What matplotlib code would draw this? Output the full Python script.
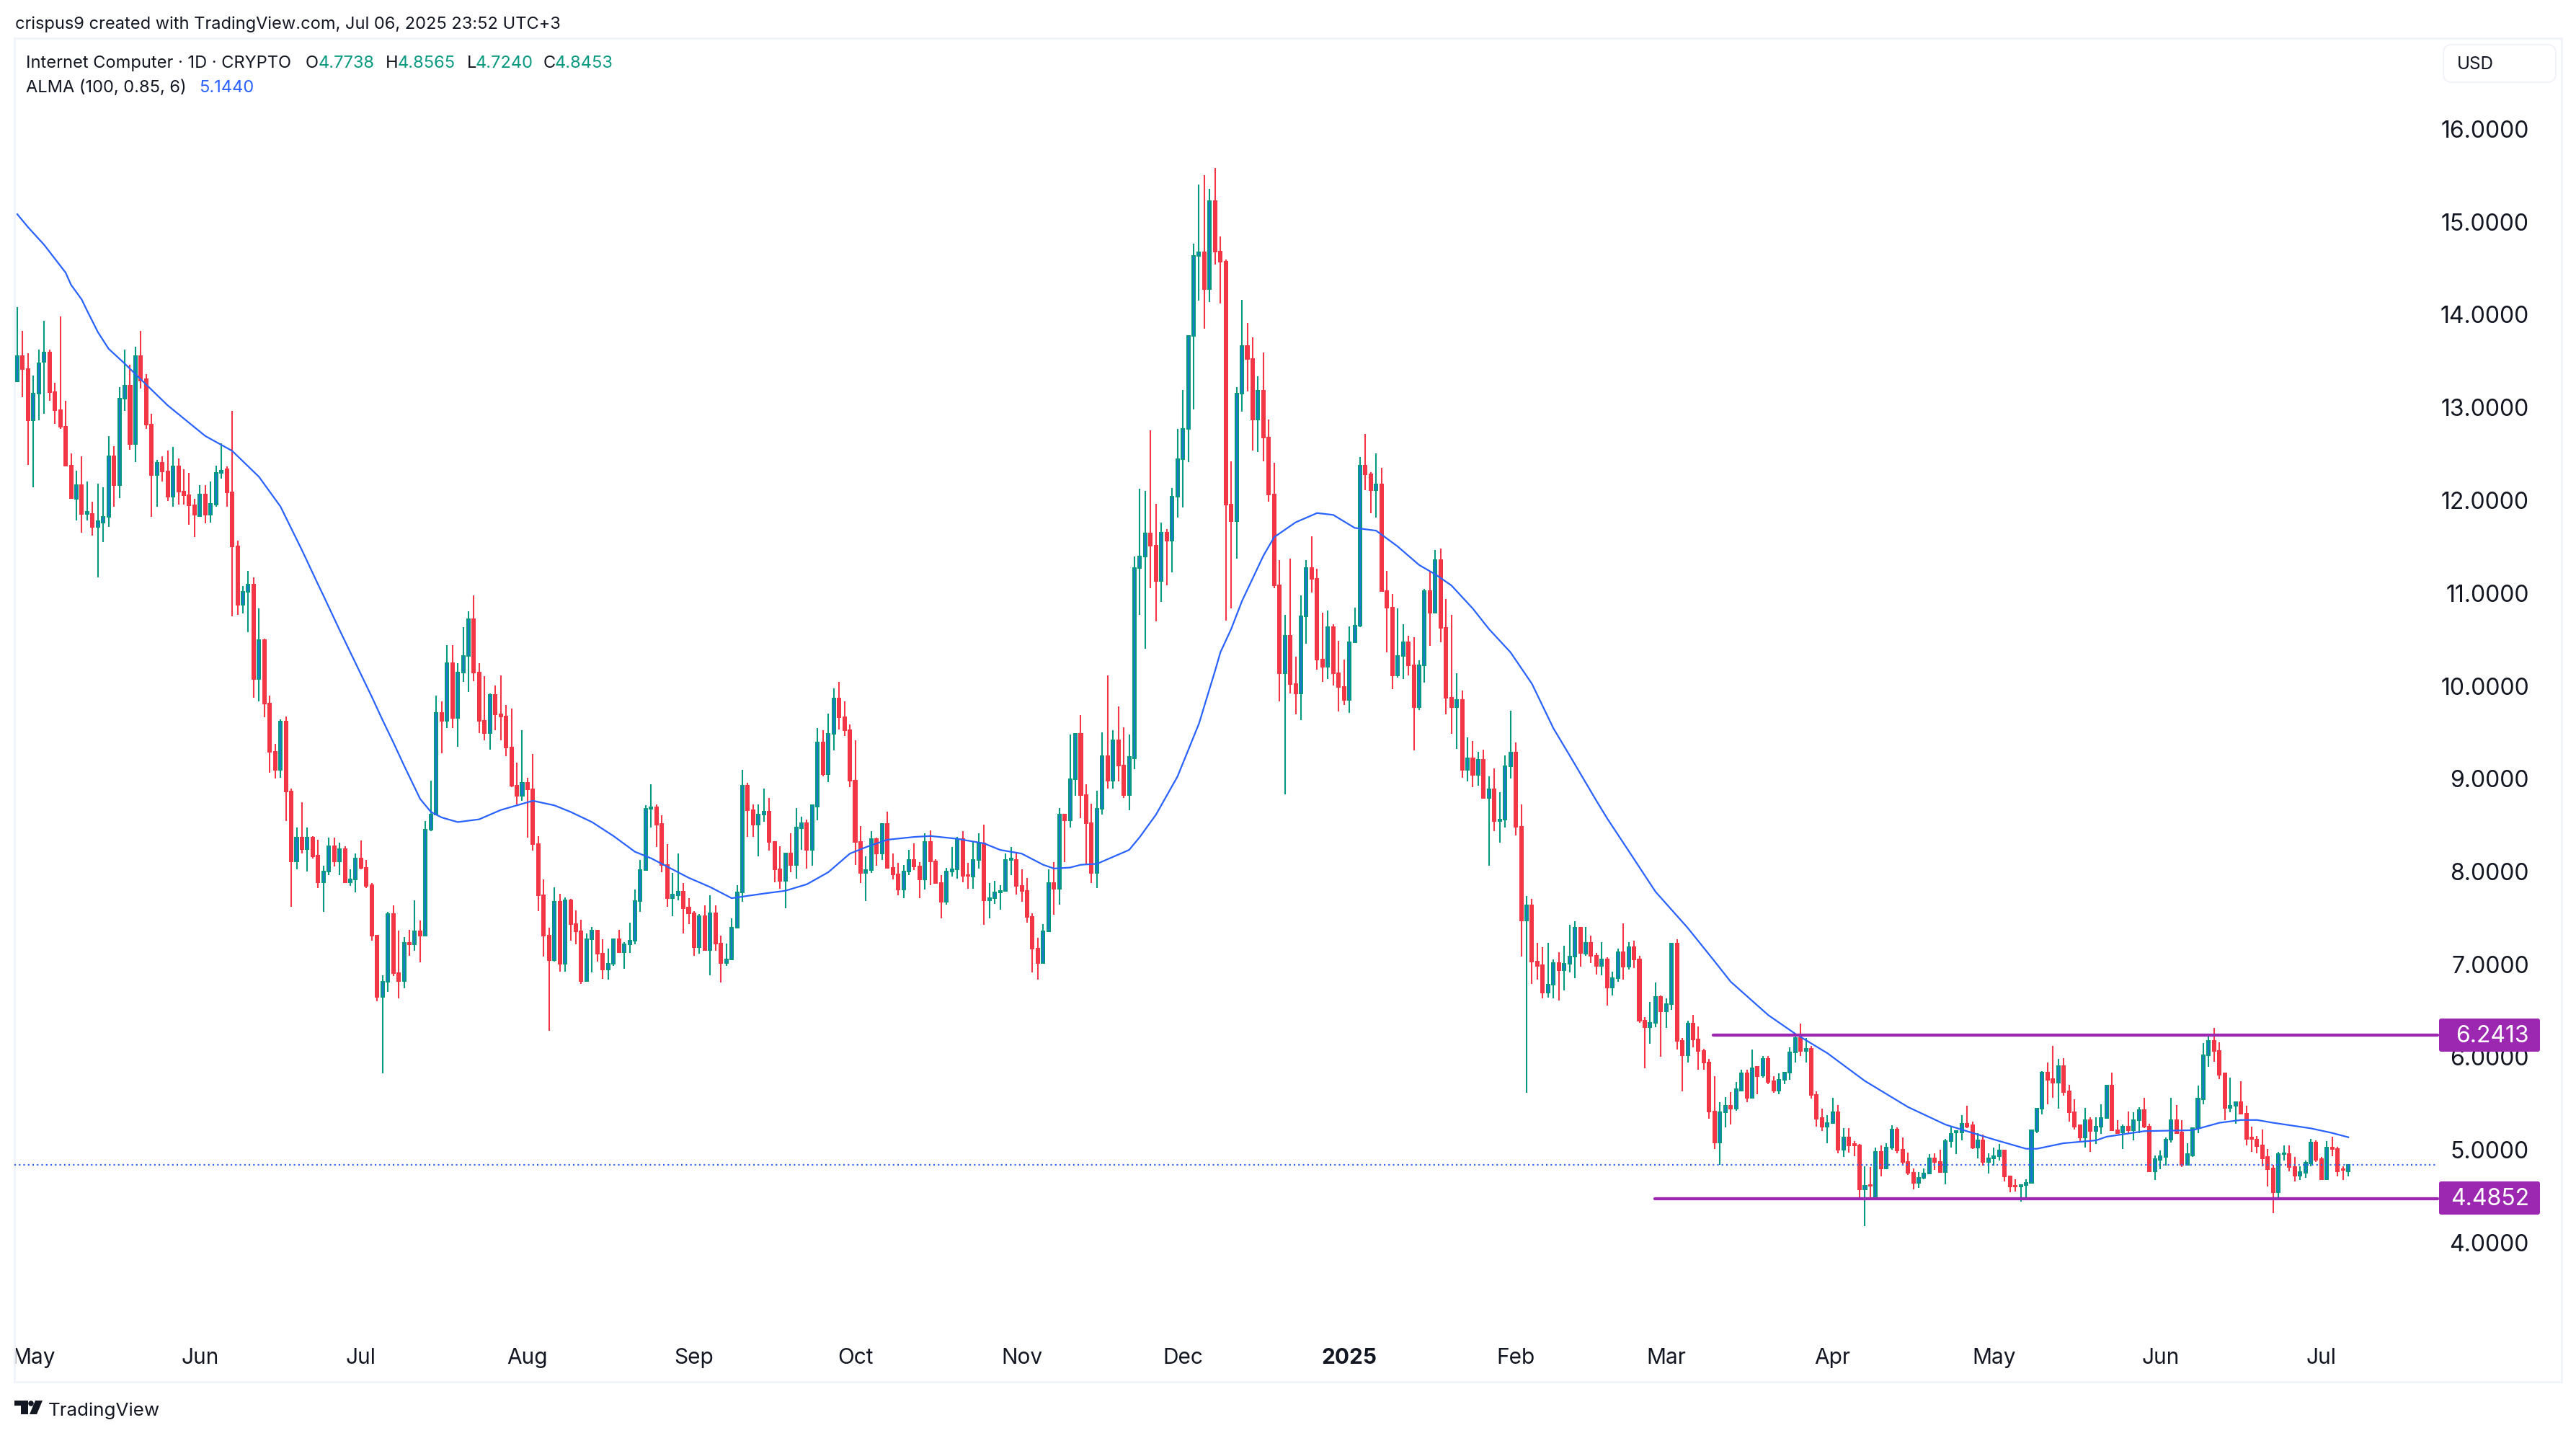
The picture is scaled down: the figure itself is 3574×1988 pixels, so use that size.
import matplotlib
matplotlib.use('Agg')
import matplotlib.pyplot as plt
from matplotlib.patches import FancyBboxPatch, Polygon, Circle
from matplotlib.transforms import ScaledTranslation

plt.rcParams['font.family'] = ['Inter', 'DejaVu Sans']

# daily candles, Apr 28 2024 .. Jul 6 2025
highs = [14.09,13.83,13.59,13.35,13.63,13.94,13.63,13.27,13.99,13.08,
12.51,12.33,12.48,12.21,11.99,12.19,12.15,12.70,12.59,13.23,
13.63,13.47,13.66,13.83,13.37,12.94,12.44,12.48,12.54,12.58,
12.46,12.34,12.30,12.02,12.17,12.17,12.21,12.38,12.62,12.37,
12.97,11.57,11.08,11.25,11.18,10.84,10.52,9.90,9.38,9.65,
9.68,8.90,8.48,8.75,8.48,8.39,8.35,8.07,8.37,8.37,
8.32,8.28,8.03,8.20,8.34,8.13,7.88,7.32,6.89,7.57,
7.64,7.37,7.30,7.38,7.70,7.48,8.55,8.99,9.90,9.84,
10.45,10.45,10.25,10.64,10.81,10.98,10.25,10.11,9.93,10.01,
10.12,9.80,9.76,9.18,9.53,9.02,9.27,8.39,7.92,7.40,
7.84,7.77,7.73,7.71,7.59,7.49,7.34,7.41,7.38,7.28,
7.18,7.28,7.38,7.25,7.46,7.81,8.13,8.72,8.95,8.73,
8.61,8.30,7.99,8.20,7.88,7.72,7.58,7.55,7.64,7.75,
7.64,7.32,7.23,7.50,7.86,9.10,8.96,8.73,8.73,8.90,
8.80,8.33,8.28,8.20,8.42,8.69,8.60,8.57,8.73,9.55,
9.53,9.71,9.98,10.05,9.84,9.59,9.42,8.50,8.17,8.44,
8.37,8.52,8.65,8.20,8.10,8.08,8.24,8.31,8.11,8.42,
8.45,8.14,7.97,8.05,8.27,8.38,8.44,8.10,8.33,8.42,
8.51,7.88,7.91,7.86,8.20,8.27,8.20,8.03,7.94,7.56,
7.29,7.44,8.03,8.11,8.69,8.63,9.48,9.49,9.69,8.95,
8.74,8.88,9.51,10.12,9.53,9.79,9.56,9.48,11.40,12.13,
12.11,12.76,11.97,11.77,11.70,12.14,12.78,13.20,13.78,14.77,
15.41,15.51,15.36,15.59,14.85,14.60,12.43,13.23,14.17,13.92,
13.76,13.34,13.60,12.88,12.41,11.36,10.77,11.38,10.32,10.98,
11.36,11.62,11.27,10.80,10.82,10.67,10.49,10.29,10.65,10.85,
12.47,12.72,12.31,12.51,12.36,11.25,11.00,10.84,10.67,10.55,
10.53,10.28,11.05,11.24,11.47,11.49,10.94,10.77,10.14,9.96,
9.45,9.41,9.30,9.32,9.03,9.12,8.86,9.26,9.74,9.40,
8.73,7.74,7.71,7.24,7.19,7.24,7.06,7.14,7.21,7.43,
7.47,7.40,7.41,7.32,7.13,7.25,7.08,6.93,7.18,7.45,
7.25,7.26,7.10,6.44,6.60,6.81,6.67,6.64,7.24,7.28,
6.21,6.40,6.46,6.34,6.10,5.99,5.80,5.52,5.58,5.63,
5.74,5.87,5.87,6.09,5.91,6.02,6.02,5.80,5.83,5.85,
6.11,6.24,6.37,6.21,6.13,5.64,5.45,5.38,5.57,5.49,
5.24,5.24,5.10,5.07,4.83,4.82,5.03,5.06,5.08,5.27,
5.25,5.14,4.98,4.81,4.77,4.81,4.96,4.97,5.01,5.13,
5.26,5.22,5.38,5.48,5.31,5.19,5.17,4.97,5.03,5.07,
5.00,4.72,4.69,4.64,4.69,5.23,5.46,5.86,5.95,6.13,
5.99,6.00,5.71,5.55,5.28,5.46,5.36,5.36,5.50,5.71,
5.84,5.33,5.28,5.42,5.41,5.47,5.57,5.29,4.95,5.00,
5.14,5.57,5.49,5.33,5.08,5.25,5.70,6.16,6.23,6.32,
6.17,5.83,5.79,5.53,5.75,5.48,5.26,5.16,5.23,5.02,
4.85,4.99,5.06,5.06,4.93,4.83,4.89,5.13,5.11,4.93,
5.10,5.15,5.04,4.83,4.8565]

lows = [13.28,13.12,12.39,12.15,12.87,12.94,13.08,12.83,12.78,12.38,
12.03,11.79,11.66,11.79,11.63,11.18,11.56,11.72,11.94,12.03,
12.97,12.55,12.42,13.21,12.78,11.83,11.94,12.21,12.00,11.94,
11.96,11.96,11.74,11.61,11.83,11.76,11.77,11.94,12.24,11.94,
10.76,10.77,10.79,10.59,9.88,9.84,9.67,9.07,9.01,9.02,
8.55,7.63,8.03,8.20,8.01,8.15,7.83,7.57,7.97,8.06,
7.97,7.88,7.85,7.78,8.03,7.83,7.26,6.61,5.83,6.71,
6.88,6.64,6.75,7.10,7.15,7.03,7.32,8.44,8.61,9.28,
9.55,9.55,9.35,10.05,9.94,10.06,9.50,9.42,9.32,9.53,
9.42,9.25,8.92,8.73,8.77,8.37,8.23,7.58,7.09,6.29,
7.04,6.93,6.93,7.26,7.22,6.80,6.83,6.92,7.04,6.85,
6.84,6.99,7.13,6.96,7.13,7.22,7.57,8.02,8.48,8.27,
8.00,7.63,7.53,7.70,7.34,7.44,7.10,7.12,7.16,6.89,
7.15,6.81,6.99,7.05,7.40,7.68,8.38,8.38,8.17,8.54,
8.23,7.89,7.82,7.61,8.00,7.93,8.24,8.04,8.07,8.56,
9.03,8.97,9.31,9.54,9.47,8.92,8.08,7.88,7.69,7.99,
8.07,8.13,8.04,7.92,7.75,7.72,7.97,8.02,7.72,7.81,
7.86,7.88,7.50,7.65,7.95,7.93,7.89,7.82,7.82,8.04,
7.43,7.50,7.66,7.60,7.79,7.97,7.76,7.68,7.46,6.92,
6.84,7.02,7.36,7.54,7.65,8.11,8.48,8.82,8.58,8.08,
7.88,7.83,8.62,8.90,8.90,8.98,8.80,8.67,9.11,10.77,
10.41,11.06,10.70,10.91,11.09,11.23,11.82,11.93,12.42,12.99,
14.16,13.86,14.14,14.55,14.13,10.71,10.84,11.38,12.96,13.18,
12.54,12.53,12.43,11.99,11.06,9.84,8.84,9.93,9.70,9.64,
10.46,11.01,10.18,10.05,10.08,10.01,9.73,9.80,9.72,10.48,
10.64,12.12,11.87,11.82,11.02,10.37,9.97,10.10,10.08,10.12,
9.31,9.75,10.04,10.44,10.80,10.48,9.70,9.49,9.33,9.02,
8.98,8.92,8.93,8.80,8.07,8.44,8.32,8.48,9.01,8.40,
7.09,5.62,6.80,6.84,6.64,6.65,6.64,6.62,6.73,6.92,
6.86,6.98,7.10,7.02,6.90,6.89,6.56,6.67,6.82,6.84,
6.95,6.97,6.38,5.89,6.15,6.33,6.01,6.32,6.52,6.09,
5.64,5.95,6.11,5.87,5.87,5.34,5.02,4.85,5.25,5.28,
5.43,5.64,5.52,5.57,5.61,5.79,5.72,5.62,5.61,5.72,
5.76,5.95,6.02,5.95,5.56,5.26,5.21,5.08,5.29,4.97,
4.93,4.98,4.94,4.47,4.19,4.48,4.49,4.72,4.81,5.01,
4.97,4.84,4.74,4.58,4.60,4.69,4.75,4.79,4.76,4.64,
5.03,4.96,5.11,5.24,5.02,4.92,4.84,4.75,4.84,4.89,
4.67,4.55,4.56,4.45,4.50,4.65,5.19,5.39,5.50,5.57,
5.45,5.59,5.31,5.23,5.09,5.03,4.99,5.07,5.18,5.35,
5.21,5.18,5.02,5.19,5.11,5.19,5.24,4.78,4.68,4.80,
4.84,5.09,5.18,4.82,4.84,4.93,5.19,5.50,5.90,5.96,
5.77,5.33,5.41,5.29,5.39,5.06,4.99,4.97,4.83,4.61,
4.33,4.47,4.89,4.78,4.67,4.68,4.71,4.83,4.88,4.68,
4.68,4.94,4.72,4.68,4.7240]

opens = [13.29,13.56,13.42,12.87,13.16,13.50,13.60,13.17,12.98,12.80,
12.38,12.02,12.17,11.86,11.86,11.72,11.77,11.83,12.48,12.17,
13.10,13.24,12.61,13.56,13.31,12.82,12.28,12.41,12.32,12.05,
12.37,12.10,12.06,11.95,11.84,12.07,11.85,11.96,12.30,12.34,
12.09,11.51,10.88,11.02,11.10,10.08,10.50,9.82,9.30,9.10,
9.62,8.87,8.12,8.37,8.25,8.37,8.18,7.89,8.01,8.28,
8.12,8.25,7.89,7.92,8.15,8.05,7.86,7.32,6.66,6.82,
7.55,6.91,6.83,7.24,7.22,7.36,7.32,8.46,8.62,9.72,
9.63,10.25,9.66,10.15,10.33,10.73,10.15,9.63,9.50,9.91,
9.70,9.68,9.34,8.93,8.82,8.96,8.89,8.30,7.75,7.32,
7.05,7.68,7.01,7.70,7.44,7.36,6.83,7.28,7.37,7.12,
6.95,7.01,7.28,7.14,7.22,7.26,7.69,8.02,8.68,8.70,
8.52,8.08,7.72,7.75,7.79,7.62,7.56,7.19,7.53,7.16,
7.56,7.23,7.02,7.06,7.40,7.78,8.93,8.67,8.51,8.62,
8.65,8.33,8.03,7.91,8.20,8.08,8.47,8.53,8.24,8.71,
9.40,9.06,9.49,9.87,9.67,9.53,8.99,8.33,7.99,8.02,
8.36,8.20,8.52,8.05,7.98,7.81,8.01,8.13,8.06,7.92,
8.33,8.12,7.88,7.68,8.01,8.03,8.36,7.97,7.95,8.13,
8.31,7.70,7.72,7.78,7.80,8.13,8.13,7.85,7.80,7.52,
7.18,7.02,7.36,7.88,7.82,8.62,8.56,9.00,9.49,8.83,
8.53,7.99,8.68,9.25,8.99,9.42,9.15,8.83,9.23,11.28,
11.40,11.65,11.52,11.14,11.66,11.57,12.05,12.45,12.78,13.78,
14.64,14.68,14.28,15.23,14.69,14.58,11.96,11.78,13.16,13.67,
13.53,12.88,13.19,12.68,12.07,11.09,10.14,10.55,10.03,9.93,
10.76,11.28,11.16,10.29,10.21,10.64,10.14,10.00,9.86,10.48,
10.66,12.38,12.29,12.12,12.18,11.03,10.85,10.12,10.33,10.48,
10.23,9.78,10.23,11.03,10.80,11.36,10.63,9.88,9.78,9.86,
9.10,9.23,9.05,9.21,8.80,8.89,8.55,8.57,9.14,9.29,
8.49,7.48,7.64,7.04,7.00,6.70,6.79,7.02,6.94,7.01,
7.09,7.40,7.12,7.24,7.10,6.99,7.06,6.76,6.86,7.14,
6.98,7.19,7.06,6.40,6.33,6.38,6.66,6.50,6.58,7.23,
6.18,6.03,6.37,6.20,6.07,5.95,5.42,5.09,5.41,5.48,
5.45,5.65,5.83,5.57,5.90,5.81,5.99,5.75,5.65,5.76,
5.84,6.06,6.21,6.07,6.10,5.60,5.35,5.26,5.30,5.41,
5.01,5.14,5.07,5.06,4.58,4.63,4.50,4.99,4.81,5.03,
5.23,5.01,4.88,4.76,4.65,4.71,4.75,4.92,4.88,4.77,
5.10,5.20,5.20,5.29,5.27,5.03,5.11,4.88,4.92,4.94,
5.00,4.72,4.62,4.61,4.63,4.65,5.21,5.45,5.84,5.77,
5.73,5.91,5.64,5.41,5.27,5.14,5.33,5.21,5.26,5.35,
5.70,5.22,5.20,5.26,5.22,5.33,5.44,5.26,4.78,4.90,
4.93,5.12,5.33,5.20,4.85,4.95,5.24,5.55,6.03,6.18,
6.07,5.83,5.46,5.48,5.52,5.40,5.14,5.12,5.06,4.93,
4.81,4.55,4.96,4.96,4.82,4.73,4.76,4.86,5.09,4.91,
4.69,5.03,5.02,4.80,4.7738]

closes = [13.56,13.42,12.87,13.16,13.48,13.60,13.17,12.98,12.80,12.38,
12.03,12.17,11.86,11.88,11.72,11.78,11.83,12.48,12.17,13.10,
13.24,12.61,13.56,13.30,12.82,12.28,12.41,12.32,12.05,12.37,
12.10,12.06,11.95,11.85,12.07,11.85,11.97,12.30,12.33,12.09,
11.51,10.88,11.02,11.10,10.08,10.50,9.82,9.30,9.10,9.62,
8.87,8.12,8.37,8.25,8.37,8.17,7.89,8.01,8.28,8.12,
8.25,7.89,7.92,8.15,8.05,7.85,7.32,6.66,6.82,7.55,
6.91,6.83,7.24,7.22,7.36,7.32,8.46,8.62,9.72,9.63,
10.25,9.66,10.15,10.33,10.73,10.15,9.63,9.50,9.91,9.70,
9.68,9.34,8.93,8.82,8.96,8.89,8.30,7.75,7.32,7.05,
7.68,7.01,7.70,7.44,7.36,6.83,7.28,7.37,7.12,6.95,
7.01,7.28,7.14,7.22,7.26,7.69,8.02,8.68,8.70,8.51,
8.08,7.72,7.76,7.79,7.61,7.56,7.19,7.53,7.16,7.56,
7.23,7.02,7.06,7.40,7.78,8.93,8.67,8.51,8.62,8.65,
8.33,8.03,7.91,8.20,8.08,8.48,8.53,8.24,8.72,9.40,
9.06,9.49,9.87,9.67,9.53,8.99,8.33,7.99,8.02,8.36,
8.20,8.52,8.05,7.98,7.81,8.01,8.13,8.06,7.92,8.33,
8.12,7.88,7.68,8.01,8.03,8.36,7.96,7.96,8.13,8.31,
7.70,7.72,7.78,7.80,8.13,8.15,7.85,7.80,7.52,7.18,
7.02,7.36,7.88,7.82,8.62,8.56,9.00,9.49,8.83,8.53,
7.99,8.68,9.25,8.99,9.42,9.15,8.83,9.24,11.28,11.40,
11.65,11.52,11.14,11.66,11.57,12.05,12.45,12.78,13.78,14.64,
14.68,14.28,15.23,14.69,14.58,11.96,11.78,13.16,13.67,13.53,
12.88,13.19,12.68,12.07,11.09,10.14,10.55,10.03,9.93,10.76,
11.28,11.16,10.29,10.21,10.64,10.14,10.00,9.86,10.48,10.66,
12.38,12.29,12.12,12.18,11.03,10.85,10.12,10.33,10.48,10.23,
9.78,10.23,11.03,10.80,11.36,10.63,9.88,9.78,9.86,9.10,
9.23,9.05,9.21,8.80,8.89,8.55,8.57,9.14,9.29,8.49,
7.48,7.64,7.04,6.99,6.70,6.79,7.02,6.94,7.01,7.09,
7.40,7.13,7.24,7.10,6.99,7.06,6.76,6.86,7.14,6.98,
7.19,7.06,6.40,6.33,6.38,6.66,6.50,6.58,7.23,6.18,
6.03,6.37,6.20,6.07,5.95,5.42,5.09,5.41,5.48,5.45,
5.66,5.83,5.57,5.89,5.80,5.99,5.74,5.65,5.76,5.84,
6.06,6.21,6.07,6.10,5.60,5.34,5.26,5.30,5.41,5.01,
5.14,5.06,5.06,4.58,4.62,4.62,4.99,4.81,5.03,5.23,
5.00,4.88,4.76,4.65,4.71,4.75,4.92,4.88,4.77,5.10,
5.18,5.21,5.29,5.26,5.03,5.11,4.88,4.92,4.94,5.00,
4.72,4.61,4.61,4.63,4.65,5.22,5.45,5.84,5.76,5.73,
5.91,5.63,5.41,5.26,5.14,5.33,5.21,5.26,5.35,5.70,
5.22,5.19,5.26,5.22,5.33,5.44,5.26,4.78,4.91,4.94,
5.12,5.33,5.19,4.85,4.96,5.24,5.56,6.03,6.18,6.07,
5.82,5.46,5.48,5.52,5.40,5.13,5.13,5.05,4.92,4.80,
4.55,4.96,4.97,4.82,4.73,4.77,4.87,5.09,4.90,4.69,
5.03,5.02,4.78,4.79,4.8453]

# ALMA(100, 0.85, 6) read at candle numbers
alma_days = [0,2,5,9,10,12,13,15,17,20,23,28,35,40,45,49,53,56,57,60,61,63,66,68,70,72,75,77,79,82,
86,90,96,100,103,107,111,115,118,125,129,133,139,143,147,151,155,158,162,167,170,175,180,183,187,191,193,196,198,201,
207,209,212,216,220,223,224,226,228,232,234,238,242,245,249,253,257,261,264,267,271,274,278,282,286,289,294,296,
300,305,311,316,319,326,331,337,344,352,359,368,374,376,381,387,389,396,405,410,414,417,420,427,431,434]
alma_vals = [15.09,14.95,14.76,14.46,14.33,14.17,14.05,13.82,13.64,13.48,13.31,13.03,12.70,12.54,12.26,11.94,11.47,11.10,10.98,10.61,10.49,10.25,9.89,9.64,9.40,9.15,8.79,8.65,8.59,8.54,
8.57,8.67,8.77,8.72,8.65,8.54,8.39,8.22,8.15,7.94,7.84,7.72,7.77,7.80,7.87,8.00,8.20,8.27,8.35,8.38,8.39,8.36,8.31,8.24,8.20,8.08,8.04,8.05,8.08,8.09,
8.24,8.38,8.62,9.03,9.60,10.17,10.37,10.62,10.92,11.41,11.61,11.77,11.87,11.85,11.71,11.68,11.51,11.31,11.21,11.09,10.84,10.62,10.37,10.03,9.55,9.26,8.77,8.58,
8.23,7.79,7.40,7.04,6.82,6.46,6.26,6.05,5.75,5.47,5.28,5.12,5.02,5.02,5.08,5.11,5.15,5.21,5.22,5.30,5.33,5.33,5.30,5.24,5.19,5.144]

# axis stuff
price_ticks = [16, 15, 14, 13, 12, 11, 10, 9, 8, 7, 6, 5, 4]
month_days = [3, 34, 64, 95, 126, 156, 187, 217, 248, 279, 307, 338, 368, 399, 429]
month_labels = ['May', 'Jun', 'Jul', 'Aug', 'Sep', 'Oct', 'Nov', 'Dec', '2025', 'Feb', 'Mar', 'Apr', 'May', 'Jun', 'Jul']
resistance = 6.2413
support = 4.4852
last_close = 4.8453

GREEN = '#089981'
BODY_BLUE = '#1976D2'
RED = '#F23645'
BLUE = '#2962FF'
PURPLE = '#9C27B0'
INK = '#131722'
BORDER = '#F0F3FA'

W, H = 3574, 1988
fig = plt.figure(figsize=(W / 100, H / 100), dpi=100, facecolor='white')

# panel runs 20..3554 and 53..1917 px; one candle is 7.452 px, one unit 128.75 px
ax = fig.add_axes([20 / W, 1 - 1917 / H, 3534 / W, 1864 / H])
ax.set_xlim((20 - 24) / 7.452, (3554 - 24) / 7.452)
ax.set_ylim(16 - (1917 - 180) / 128.75, 16 + 127 / 128.75)

days = list(range(len(closes)))
for i in days:
    up = closes[i] >= opens[i]
    edge = GREEN if up else RED
    face = BODY_BLUE if up else RED
    ax.vlines(i, lows[i], highs[i], color=edge, lw=1.5, zorder=2)
    ax.bar(i, abs(closes[i] - opens[i]), bottom=min(opens[i], closes[i]), width=0.54,
           facecolor=face, edgecolor=edge, linewidth=1.44, zorder=3)

ax.plot(alma_days, alma_vals, color=BLUE, lw=1.6, zorder=4)

# channel lines and last price line
ax.plot([315.7, 450.6], [resistance, resistance], color=PURPLE, lw=3.1, solid_capstyle='round', zorder=5)
ax.plot([304.9, 450.6], [support, support], color=PURPLE, lw=3.1, solid_capstyle='round', zorder=5)
ax.plot([-0.5, 450.6], [last_close, last_close], color=BLUE, lw=1.5, linestyle=(0, (1, 2)), zorder=5)

for s in ax.spines.values():
    s.set_color(BORDER)
    s.set_linewidth(2)

ax.yaxis.tick_right()
ax.set_yticks(price_ticks)
ax.set_yticklabels(['%.4f' % v for v in price_ticks])
ax.tick_params(axis='y', length=0, pad=-32.4, labelsize=23, labelcolor=INK)
down = ScaledTranslation(0, -2.5 / 100, fig.dpi_scale_trans)
for lab in ax.get_yticklabels():
    lab.set_ha('right')
    lab.set_va('center')
    lab.set_transform(lab.get_transform() + down)

ax.set_xticks(month_days)
ax.set_xticklabels(month_labels)
ax.tick_params(axis='x', length=0, pad=-23.8, labelsize=21.5, labelcolor=INK)
for lab in ax.get_xticklabels():
    lab.set_va('center')
    if lab.get_text() == '2025':
        lab.set_fontweight('bold')

# overlay in pixels for the header, boxes and logo
ov = fig.add_axes([0, 0, 1, 1])
ov.set_xlim(0, W)
ov.set_ylim(H, 0)
ov.axis('off')
ov.patch.set_alpha(0)

ov.text(21, 34, 'crispus9 created with TradingView.com, Jul 06, 2025 23:52 UTC+3', fontsize=17, color=INK, va='center')
ov.text(36, 88, 'Internet Computer · 1D · CRYPTO', fontsize=17, color=INK, va='center')
for x, s, c in [(424, 'O', INK), (442, '4.7738', GREEN), (535, 'H', INK), (552, '4.8565', GREEN),
                (648, 'L', INK), (660, '4.7240', GREEN), (754, 'C', INK), (770, '4.8453', GREEN)]:
    ov.text(x, 88, s, fontsize=17, color=c, va='center')
ov.text(36, 122, 'ALMA (100, 0.85, 6)', fontsize=17, color=INK, va='center')
ov.text(276, 122, '5.1440', fontsize=17, color=BLUE, va='center')

ov.add_patch(FancyBboxPatch((3400, 72), 136, 32, boxstyle='round,pad=10,rounding_size=12',
                            edgecolor=BORDER, facecolor='white', linewidth=1.5))
ov.text(3409, 90, 'USD', fontsize=17.5, color=INK, va='center')

for top, val in [(1413, resistance), (1639, support)]:
    ov.add_patch(FancyBboxPatch((3386, top + 2), 136, 42, boxstyle='round,pad=2,rounding_size=3', linewidth=0, facecolor=PURPLE))
    ov.text(3509, top + 25, '%.4f' % val, fontsize=23, color='white', ha='right', va='center')

# logo
ov.add_patch(Polygon([(20, 1943), (39, 1943), (39, 1962), (29, 1962), (29, 1950), (20, 1950)], facecolor=INK, linewidth=0))
ov.add_patch(Circle((43, 1947), 3.8, facecolor=INK, linewidth=0))
ov.add_patch(Polygon([(49, 1943), (59, 1943), (51, 1962), (41, 1962)], facecolor=INK, linewidth=0))
ov.text(67, 1957, 'TradingView', fontsize=18.7, color=INK, va='center')

fig.savefig('out.png', dpi=100, facecolor='white')
